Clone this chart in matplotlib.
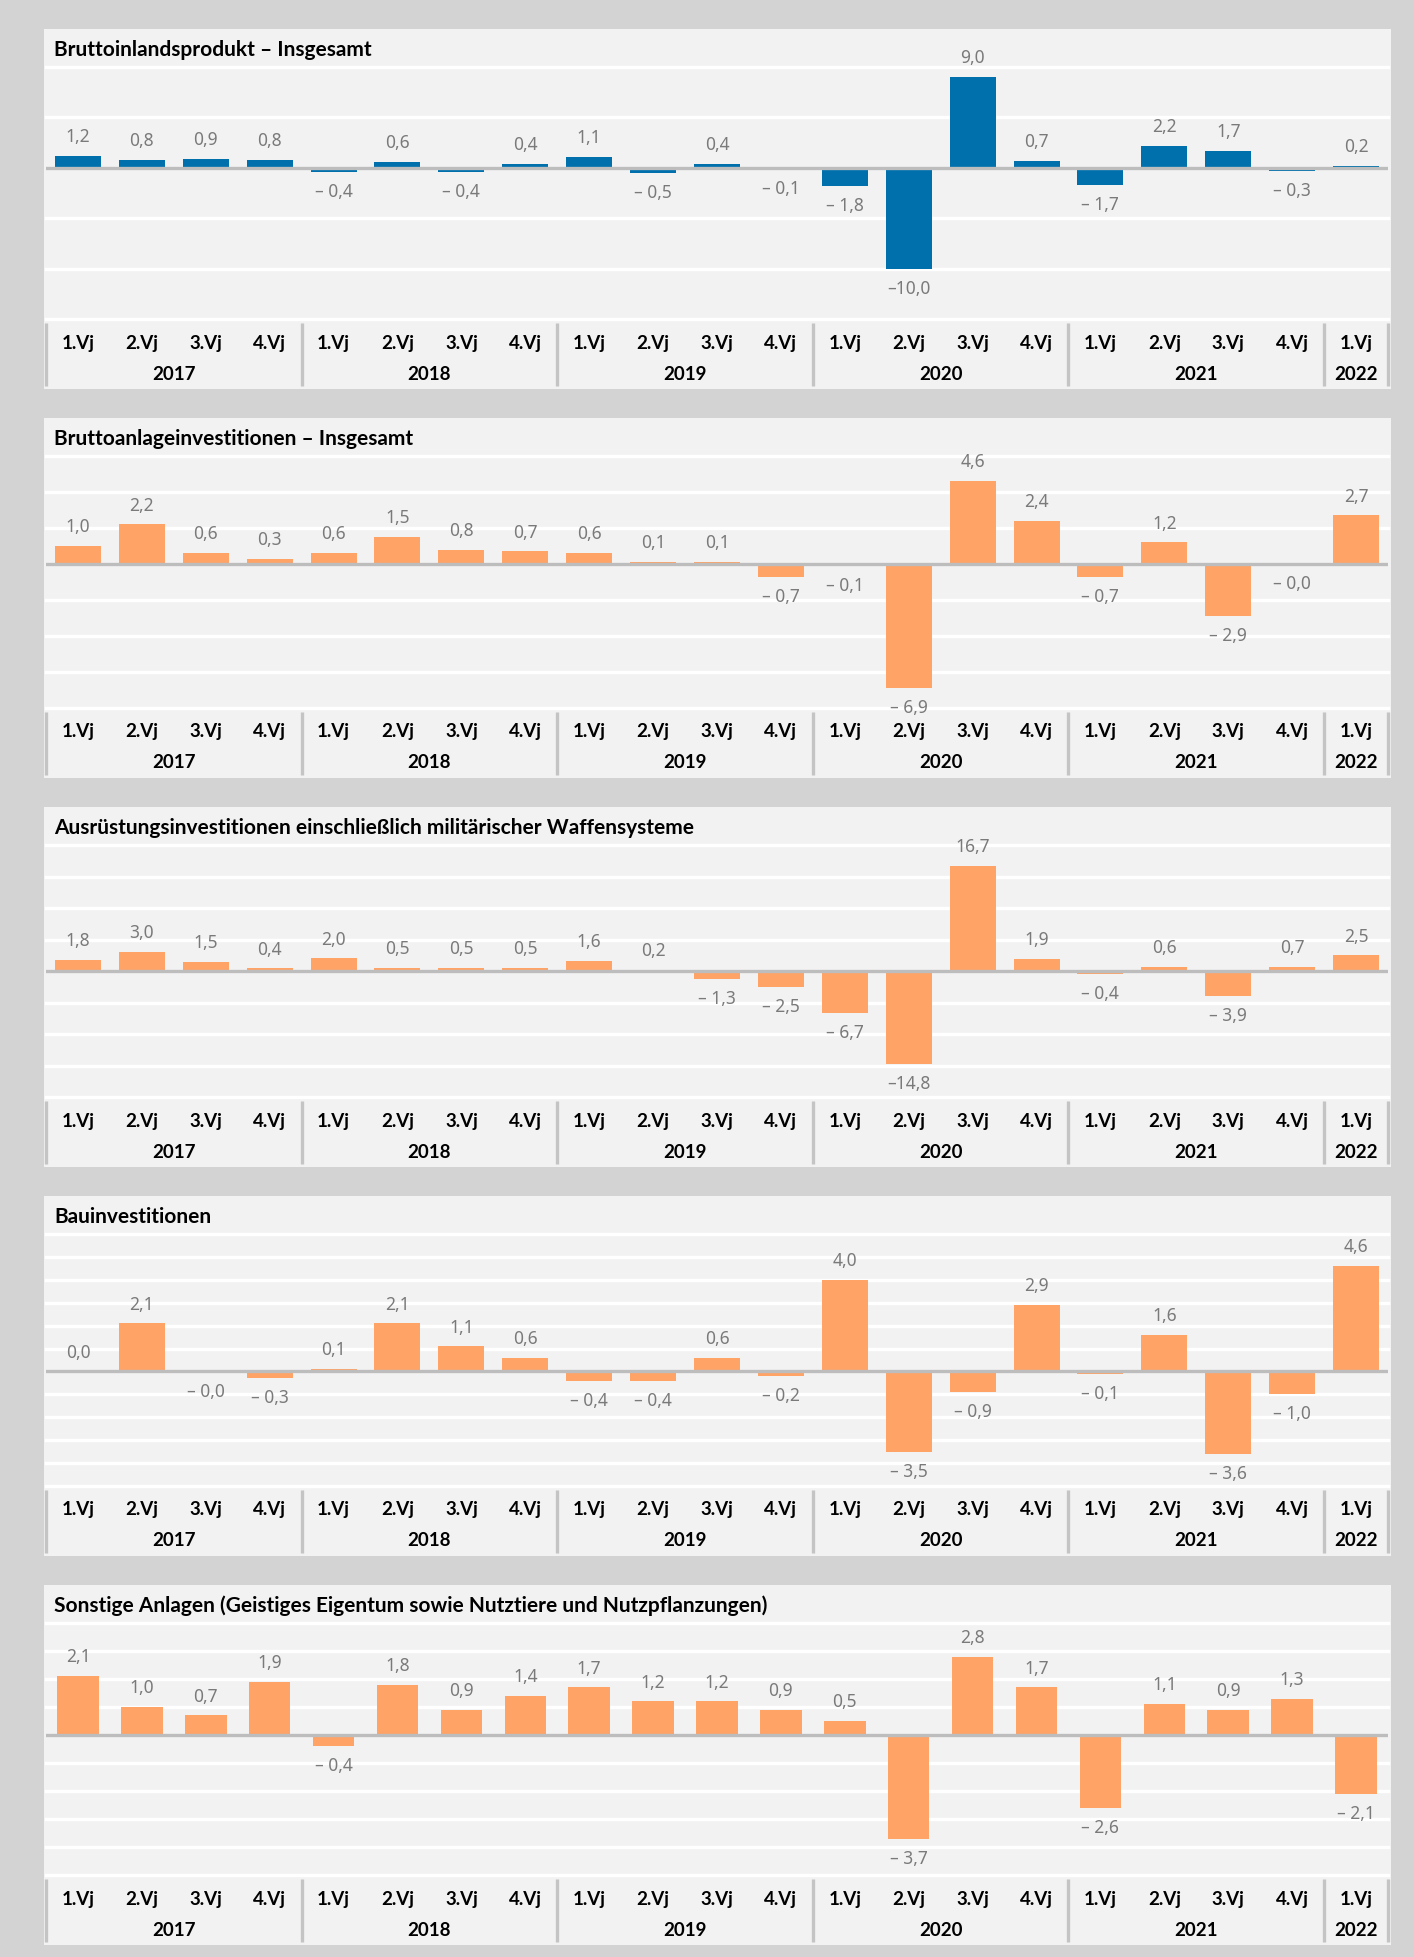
import numpy as np
import matplotlib
matplotlib.use('Agg')
import matplotlib.pyplot as plt
from matplotlib.patches import Rectangle
from matplotlib.transforms import blended_transform_factory

plt.rcParams['font.family'] = ['Noto Sans', 'DejaVu Sans']
FETT = ['Lato', 'DejaVu Sans']   # fette Schrift für Titel und Achse

# Bildgröße in Pixel
W, H = 1414, 1957

# Daten: Veränderung gegenüber Vorquartal in %
jahre = ['2017', '2018', '2019', '2020', '2021', '2022']
quartale = ['1.Vj', '2.Vj', '3.Vj', '4.Vj'] * 5 + ['1.Vj']

titel = [
    'Bruttoinlandsprodukt – Insgesamt',
    'Bruttoanlageinvestitionen – Insgesamt',
    'Ausrüstungsinvestitionen einschließlich militärischer Waffensysteme',
    'Bauinvestitionen',
    'Sonstige Anlagen (Geistiges Eigentum sowie Nutztiere und Nutzpflanzungen)',
]

bip = [1.2, 0.8, 0.9, 0.8,
       -0.4, 0.6, -0.4, 0.4,
       1.1, -0.5, 0.4, -0.1,
       -1.8, -10.0, 9.0, 0.7,
       -1.7, 2.2, 1.7, -0.3,
       0.2]
anlage = [1.0, 2.2, 0.6, 0.3,
          0.6, 1.5, 0.8, 0.7,
          0.6, 0.1, 0.1, -0.7,
          -0.1, -6.9, 4.6, 2.4,
          -0.7, 1.2, -2.9, -0.0,
          2.7]
ausruestung = [1.8, 3.0, 1.5, 0.4,
               2.0, 0.5, 0.5, 0.5,
               1.6, 0.2, -1.3, -2.5,
               -6.7, -14.8, 16.7, 1.9,
               -0.4, 0.6, -3.9, 0.7,
               2.5]
bau = [0.0, 2.1, -0.0, -0.3,
       0.1, 2.1, 1.1, 0.6,
       -0.4, -0.4, 0.6, -0.2,
       4.0, -3.5, -0.9, 2.9,
       -0.1, 1.6, -3.6, -1.0,
       4.6]
sonstige = [2.1, 1.0, 0.7, 1.9,
            -0.4, 1.8, 0.9, 1.4,
            1.7, 1.2, 1.2, 0.9,
            0.5, -3.7, 2.8, 1.7,
            -2.6, 1.1, 0.9, 1.3,
            -2.1]

reihen = [bip, anlage, ausruestung, bau, sonstige]
ygrenzen = [(-15, 10), (-8, 6), (-20, 20), (-5, 6), (-5, 4)]
yschritt = [5, 2, 5, 1, 1]

BLAU = '#0070ad'
ORANGE = '#ffa366'
farben = [BLAU, ORANGE, ORANGE, ORANGE, ORANGE]
breiten = [0.72, 0.72, 0.72, 0.72, 0.65]
oben = [29, 418, 807, 1196, 1585]   # Oberkante der Felder in px


def fx(px):
    return px / W


def fy(px):
    return 1 - px / H


def fmt(v):
    s = f'{abs(v):4.1f}'.replace('.', ',')
    if np.signbit(v):
        return '–' + s
    return s.strip()


fig = plt.figure(figsize=(W / 100, H / 100), dpi=100)
fig.patch.set_facecolor('#d3d3d3')

x = np.arange(len(quartale))

for i, werte in enumerate(reihen):
    top = oben[i]
    # Feldhintergrund
    fig.add_artist(Rectangle((fx(44), fy(top + 360)), fx(1391 - 44), 360 / H,
                             transform=fig.transFigure, facecolor='#f2f2f2',
                             edgecolor='none', zorder=-1))
    fig.text(fx(54), fy(top + 21), titel[i], fontsize=15, fontweight='bold',
             family=FETT, va='center', ha='left', color='black')

    ax = fig.add_axes([fx(46), fy(top + 290), fx(1388 - 46), 252 / H])
    ax.set_facecolor('none')
    lo, hi = ygrenzen[i]
    ax.set_xlim(-0.5, len(quartale) - 0.5)
    ax.set_ylim(lo, hi)
    for s in ax.spines.values():
        s.set_visible(False)
    ax.set_xticks([])
    ax.set_yticks([])

    for g in np.arange(lo, hi + yschritt[i] / 2, yschritt[i]):
        if g != 0:
            ax.axhline(g, color='white', lw=2.4, zorder=1, clip_on=False)
    ax.axhline(0, color='#bdbdbd', lw=2.4, zorder=3)

    ax.bar(x, werte, width=breiten[i], color=farben[i], zorder=2)

    for xi, v in zip(x, werte):
        neg = np.signbit(v)
        ax.annotate(fmt(v), (xi, v), xytext=(0, -8 if neg else 7),
                    textcoords='offset points', ha='center',
                    va='top' if neg else 'bottom', color='#7a7a7a',
                    fontsize=12.5, zorder=4)

    tr = blended_transform_factory(ax.transData, ax.transAxes)
    for xi, q in zip(x, quartale):
        ax.text(xi, -24 / 252, q, transform=tr, ha='center', va='center',
                fontsize=13.5, fontweight='bold', family=FETT, color='black')
    for k, j in enumerate(jahre):
        mitte = 4 * k + 1.5 if k < 5 else 20
        ax.text(mitte, -55 / 252, j, transform=tr, ha='center', va='center',
                fontsize=13.5, fontweight='bold', family=FETT, color='black')
    for t in [-0.5, 3.5, 7.5, 11.5, 15.5, 19.5, 20.5]:
        ax.plot([t, t], [-4 / 252, -67 / 252], transform=tr, color='#c4c4c4',
                lw=2.4, clip_on=False, solid_capstyle='butt')

fig.savefig('out.png', dpi=100, facecolor=fig.get_facecolor())
